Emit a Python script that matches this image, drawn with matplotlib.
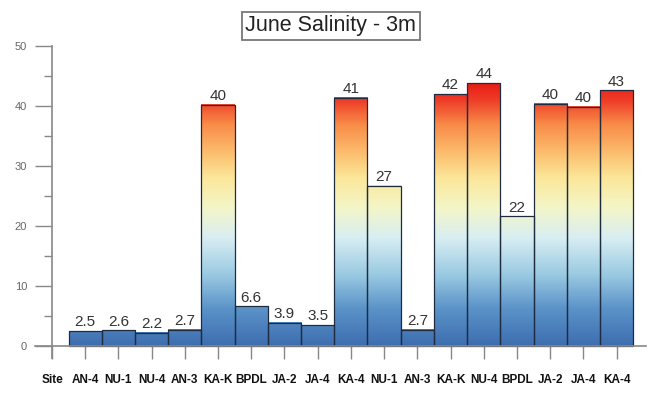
import numpy as np
import matplotlib
matplotlib.use("Agg")
import matplotlib.pyplot as plt
from matplotlib.colors import LinearSegmentedColormap, Normalize
from matplotlib.ticker import MultipleLocator

plt.rcParams["font.family"] = ["Liberation Sans", "DejaVu Sans"]

sites = ["AN-4", "NU-1", "NU-4", "AN-3", "KA-K", "BPDL", "JA-2", "JA-4", "KA-4",
         "NU-1", "AN-3", "KA-K", "NU-4", "BPDL", "JA-2", "JA-4", "KA-4"]
salinity = [2.5, 2.6, 2.2, 2.7, 40.2, 6.6, 3.9, 3.5, 41.4,
            26.7, 2.7, 42.0, 43.8, 21.6, 40.4, 39.9, 42.6]

# blue -> pale yellow -> red, keyed to salinity
stops = [(0, "#3e6eb0"), (6, "#5a92c8"), (12, "#9ccbe3"), (18, "#d8eef2"),
         (23, "#f4f6c8"), (28, "#fbe79a"), (32, "#fcc070"), (37, "#f88b48"),
         (41, "#ee3e28"), (44, "#e81a14")]
vmax = 44.0
cmap = LinearSegmentedColormap.from_list("sal", [(v / vmax, c) for v, c in stops])
norm = Normalize(0, vmax)

fig = plt.figure(figsize=(6.5, 3.93), dpi=100)
ax = fig.add_axes([0.0545, 0.0815, 0.94, 0.8015])

xs = np.arange(1, len(sites) + 1)
for x, v in zip(xs, salinity):
    grad = np.linspace(0, v, 256).reshape(-1, 1)
    ax.imshow(grad, cmap=cmap, norm=norm, origin="lower", aspect="auto",
              extent=(x - 0.5, x + 0.5, 0, v), zorder=2, interpolation="bicubic")
    label = f"{v:.0f}" if v >= 10 else f"{v:.1f}"
    ax.text(x, v + 0.3, label, ha="center", va="bottom", fontsize=11, color="#333333", zorder=4)
ax.bar(xs, salinity, width=1.0, fill=False, edgecolor="#1f2c40", linewidth=0.9, zorder=3)

ax.set_xlim(-0.5, 17.9)
ax.set_ylim(-2.5, 50)

for s in ["top", "right"]:
    ax.spines[s].set_visible(False)
ax.spines["left"].set_position(("data", 0))
ax.spines["left"].set_bounds(-2, 50)
ax.spines["bottom"].set_position(("data", 0))
for s in ["left", "bottom"]:
    ax.spines[s].set_color("#888888")
    ax.spines[s].set_linewidth(1.2)
    ax.spines[s].set_zorder(5)

ax.yaxis.set_major_locator(MultipleLocator(10))
ax.yaxis.set_minor_locator(MultipleLocator(5))
ax.tick_params(axis="y", which="major", length=12, width=1, color="#888888",
               labelsize=8, labelcolor="#666666", pad=6)
ax.tick_params(axis="y", which="minor", length=6, width=1, color="#888888")

ax.set_xticks(np.arange(0, len(sites) + 1))
ax.set_xticklabels(["Site"] + sites, fontsize=8.5, fontweight="bold",
                   family=["Liberation Sans Narrow", "Liberation Sans", "DejaVu Sans"])
ax.tick_params(axis="x", length=9, width=1, color="#888888", pad=11, labelcolor="#111111")

ax.set_facecolor("white")
fig.text(0.509, 0.934, "June Salinity - 3m", ha="center", va="center", fontsize=15.5,
         color="#222222",
         bbox=dict(boxstyle="square,pad=0.15", facecolor="white", edgecolor="#777777", linewidth=1.3))

fig.savefig("out.png", dpi=100)
